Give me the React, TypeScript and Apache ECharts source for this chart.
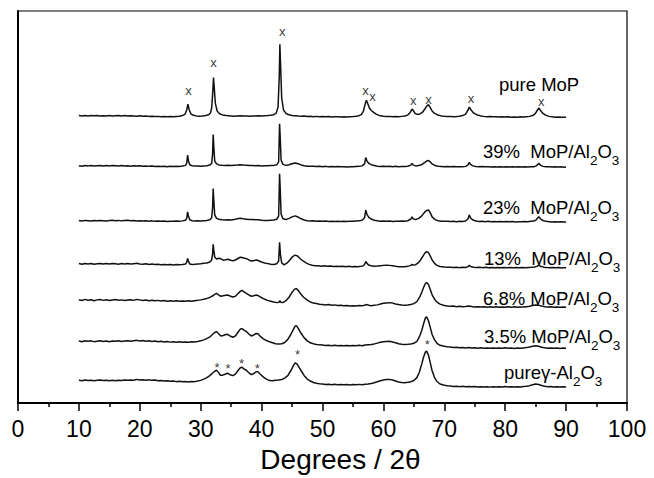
import React, { useEffect, useRef } from 'react';
import * as echarts from 'echarts';

const FONT = '"Liberation Sans", Arial, Helvetica, sans-serif';

// vertical offsets of each stacked pattern (arbitrary intensity units)
const offsets = [293, 242, 186, 142, 105, 63, 23];

// [2θ, relative intensity]
const pureMoP: number[][] = [[10,0.3],[10.5,-0.2],[11,0.4],[11.5,0],[12,0.5],[12.5,0.1],[13,0.3],[13.5,-0.2],[14,0.2],[14.5,0],[15,0.4],[15.5,-0.1],[16,0.2],[16.5,0.4],[17,0],[17.5,0.3],[18,-0.1],[18.5,0.2],[19,0],[19.5,-0.3],[20,0.1],[20.5,-0.4],[21,-0.2],[21.5,-0.5],[22,-0.3],[22.5,-0.7],[23,-0.5],[23.5,-0.9],[24,-0.6],[24.5,-1],[25,-0.7],[25.5,-0.9],[26,-0.6],[26.5,-0.3],[27,0.3],[27.4,1.5],[27.7,6],[27.9,12],[28.1,6.5],[28.4,2],[28.8,0.6],[29.3,0],[29.8,-0.3],[30.3,0],[30.8,0.4],[31.3,1.2],[31.6,3],[31.8,8],[32.0,26],[32.1,39],[32.2,31],[32.4,13],[32.7,5],[33.1,2.2],[33.6,1],[34.2,0.3],[35,0],[35.5,-0.3],[36,0],[36.5,0.2],[37,-0.2],[37.5,0],[38,-0.3],[38.5,0],[39,-0.2],[39.5,0.1],[40,0],[40.5,0.2],[41,0.3],[41.5,0.6],[42,1.2],[42.4,2.8],[42.7,9],[42.9,40],[43.0,73],[43.1,55],[43.3,18],[43.6,6],[44,2.5],[44.5,1.2],[45,0.5],[45.5,0.2],[46,-0.2],[46.5,-0.4],[47,-0.2],[47.5,-0.6],[48,-0.4],[48.5,-0.8],[49,-0.5],[49.5,-0.9],[50,-0.6],[50.5,-1],[51,-0.7],[51.5,-1.1],[52,-0.8],[52.5,-1],[53,-1.2],[53.5,-0.9],[54,-1.1],[54.5,-0.8],[55,-0.7],[55.5,-0.4],[56,0.2],[56.4,1.5],[56.7,4.5],[57.0,12],[57.2,16],[57.4,13],[57.7,8],[58.0,5.5],[58.4,3.5],[58.8,1.8],[59.3,0.5],[60,-0.3],[60.5,-0.6],[61,-0.5],[61.5,-0.9],[62,-0.6],[62.5,-0.8],[63,-0.5],[63.5,-0.2],[64,0.8],[64.4,3.5],[64.7,7],[64.9,5.5],[65.2,2.5],[65.6,1.5],[66,2],[66.4,3.5],[66.8,7],[67.1,10],[67.4,11.5],[67.7,8.5],[68,5],[68.4,2.5],[68.9,1],[69.5,0],[70,-0.4],[70.5,-0.7],[71,-0.5],[71.5,-0.8],[72,-0.6],[72.5,-0.3],[73,0.3],[73.5,1.8],[73.9,6],[74.1,9],[74.4,6],[74.8,3],[75.3,1.2],[76,0],[76.5,-0.5],[77,-0.8],[77.5,-0.6],[78,-1],[78.5,-0.8],[79,-1.1],[79.5,-0.9],[80,-1.2],[80.5,-1],[81,-1.3],[81.5,-1.1],[82,-1.3],[82.5,-1],[83,-1.1],[83.5,-0.8],[84,-0.5],[84.5,0.3],[84.9,2],[85.2,5],[85.5,8],[85.8,5.5],[86.2,2.5],[86.7,0.5],[87.2,-0.5],[87.7,-1],[88.2,-1.3],[88.7,-1.1],[89.2,-1.5],[89.6,-1.3],[90,-1.5]];

const mop39: number[][] = [[10,0.2],[10.5,-0.3],[11,0.3],[11.5,0],[12,0.4],[12.5,-0.2],[13,0.2],[13.5,0.4],[14,-0.1],[14.5,0.3],[15,0],[15.5,0.4],[16,0.1],[16.5,-0.2],[17,0.3],[17.5,0],[18,0.2],[18.5,-0.3],[19,0.1],[19.5,-0.2],[20,0.2],[20.5,-0.4],[21,-0.1],[21.5,-0.5],[22,-0.2],[22.5,-0.6],[23,-0.3],[23.5,-0.7],[24,-0.4],[24.5,-0.8],[25,-0.5],[25.5,-0.7],[26,-0.4],[26.5,-0.6],[27,-0.2],[27.5,0.5],[27.7,2.5],[27.85,11],[28.0,5],[28.2,1.2],[28.6,0.2],[29,-0.2],[29.5,0],[30,-0.3],[30.5,0],[31,0.2],[31.5,0.8],[31.8,2.5],[31.95,12],[32.05,32],[32.15,20],[32.3,5],[32.6,2],[33,1],[33.5,0.6],[34,0.3],[34.5,0.6],[35,0.3],[35.5,0.7],[36,0.9],[36.5,1.2],[37,0.8],[37.5,0.6],[38,0.3],[38.5,0.5],[39,0.2],[39.5,0.3],[40,0],[40.5,0.2],[41,0.1],[41.5,0.3],[42,0.5],[42.5,1.2],[42.8,4],[42.95,43],[43.05,30],[43.2,6],[43.5,1.5],[44,0.5],[44.5,1.2],[45,2.2],[45.5,3],[46,2.2],[46.5,1],[47,0.2],[47.5,-0.3],[48,-0.5],[48.5,-0.3],[49,-0.7],[49.5,-0.4],[50,-0.8],[50.5,-0.5],[51,-0.9],[51.5,-0.6],[52,-1],[52.5,-0.7],[53,-1],[53.5,-0.8],[54,-1.1],[54.5,-0.8],[55,-1],[55.5,-0.7],[56,-0.5],[56.5,0],[56.9,2],[57.1,8.5],[57.3,5],[57.6,2.5],[58,1.2],[58.5,0.3],[59,-0.3],[59.5,-0.6],[60,-0.4],[60.5,-0.7],[61,-0.5],[61.5,-0.8],[62,-0.5],[62.5,-0.8],[63,-0.6],[63.5,-0.7],[64,-0.4],[64.5,0.8],[64.7,2.5],[64.9,0.8],[65.3,0],[65.8,0.3],[66.3,1.2],[66.8,3.5],[67.1,5],[67.4,5.5],[67.7,4],[68,2],[68.5,0.3],[69,-0.4],[69.5,-0.6],[70,-0.8],[70.5,-0.6],[71,-0.9],[71.5,-0.7],[72,-1],[72.5,-0.8],[73,-0.9],[73.5,-0.5],[73.9,1],[74.1,3.5],[74.3,1.5],[74.7,0],[75.2,-0.6],[75.7,-0.9],[76.2,-0.7],[76.7,-1],[77.2,-0.8],[77.7,-1.1],[78.2,-0.9],[78.7,-1.2],[79.2,-0.9],[79.7,-1.1],[80.2,-0.8],[80.7,-1.1],[81.2,-0.9],[81.7,-1.2],[82.2,-1],[82.7,-1.2],[83.2,-0.9],[83.7,-1.1],[84.2,-0.8],[84.7,-0.9],[85.1,0],[85.5,2.5],[85.8,0.8],[86.2,-0.5],[86.7,-1],[87.2,-0.8],[87.7,-1.2],[88.2,-0.9],[88.7,-1.2],[89.2,-1],[89.6,-1.3],[90,-1.1]];

const mop23: number[][] = [[10,0.3],[10.5,-0.2],[11,0.4],[11.5,0.1],[12,-0.2],[12.5,0.3],[13,0],[13.5,0.4],[14,0.1],[14.5,-0.3],[15,0.2],[15.5,0.5],[16,0.1],[16.5,0.4],[17,-0.1],[17.5,0.2],[18,0.5],[18.5,0],[19,0.3],[19.5,-0.2],[20,0.1],[20.5,-0.3],[21,0],[21.5,-0.4],[22,-0.1],[22.5,-0.5],[23,-0.2],[23.5,-0.6],[24,-0.3],[24.5,-0.7],[25,-0.4],[25.5,-0.6],[26,-0.3],[26.5,-0.5],[27,-0.1],[27.5,0.6],[27.7,2.5],[27.85,9],[28.0,4.5],[28.2,1],[28.6,0],[29,-0.3],[29.5,0],[30,-0.2],[30.5,0.1],[31,0.3],[31.5,1],[31.8,3],[31.95,13],[32.05,33],[32.15,21],[32.3,6],[32.6,2.5],[33,1.5],[33.5,1],[34,0.8],[34.5,1.1],[35,0.9],[35.5,1.4],[36,2],[36.5,2.6],[37,2],[37.5,1.6],[38,1.2],[38.5,1.4],[39,1],[39.5,1.1],[40,0.5],[40.5,0.4],[41,0.2],[41.5,0.5],[42,0.8],[42.5,1.6],[42.8,5],[42.95,48],[43.05,34],[43.2,7],[43.5,2],[44,1.2],[44.5,2.5],[45,4],[45.5,5],[46,3.8],[46.5,2],[47,0.8],[47.5,0],[48,-0.3],[48.5,0],[49,-0.5],[49.5,-0.2],[50,-0.6],[50.5,-0.3],[51,-0.7],[51.5,-0.4],[52,-0.8],[52.5,-0.5],[53,-0.7],[53.5,-0.4],[54,-0.8],[54.5,-0.5],[55,-0.6],[55.5,-0.3],[56,-0.1],[56.5,0.6],[56.9,3],[57.1,11],[57.3,6.5],[57.6,3.5],[58,1.8],[58.5,0.6],[59,0],[59.5,-0.4],[60,-0.2],[60.5,-0.6],[61,-0.3],[61.5,-0.7],[62,-0.4],[62.5,-0.6],[63,-0.3],[63.5,-0.4],[64,0],[64.5,1.8],[64.7,4],[64.9,2],[65.3,1.2],[65.8,2.5],[66.3,5],[66.8,9],[67.1,10.5],[67.4,11],[67.7,8],[68,4],[68.5,1.2],[69,0],[69.5,-0.4],[70,-0.6],[70.5,-0.4],[71,-0.8],[71.5,-0.5],[72,-0.9],[72.5,-0.6],[73,-0.7],[73.5,-0.2],[73.9,2],[74.1,6],[74.3,3],[74.7,0.8],[75.2,-0.2],[75.7,-0.7],[76.2,-0.5],[76.7,-0.9],[77.2,-0.6],[77.7,-1],[78.2,-0.7],[78.7,-1.1],[79.2,-0.8],[79.7,-1],[80.2,-0.7],[80.7,-1.1],[81.2,-0.8],[81.7,-1.2],[82.2,-0.9],[82.7,-1.1],[83.2,-0.8],[83.7,-1],[84.2,-0.6],[84.7,-0.3],[85.1,1],[85.5,4],[85.8,2],[86.2,0.2],[86.7,-0.6],[87.2,-0.9],[87.7,-1.2],[88.2,-0.9],[88.7,-1.3],[89.2,-1],[89.6,-1.3],[90,-1.2]];

const mop13: number[][] = [[10,0.3],[10.5,-0.3],[11,0.5],[11.5,0],[12,0.4],[12.5,-0.3],[13,0.2],[13.5,0.5],[14,-0.2],[14.5,0.3],[15,0],[15.5,0.5],[16,0.1],[16.5,-0.3],[17,0.3],[17.5,0],[18,0.4],[18.5,-0.2],[19,0.2],[19.5,0.6],[20,0],[20.5,-0.4],[21,0.1],[21.5,-0.5],[22,-0.2],[22.5,-0.6],[23,-0.3],[23.5,-0.8],[24,-0.5],[24.5,-0.9],[25,-0.6],[25.5,-1],[26,-0.7],[26.5,-0.9],[27,-0.5],[27.5,0],[27.7,1.5],[27.85,5.5],[28.0,2.5],[28.2,0],[28.6,-0.6],[29,-0.4],[29.5,-0.1],[30,0.2],[30.5,0.6],[31,1],[31.5,2],[31.8,4],[31.95,10],[32.05,20],[32.15,14],[32.3,7],[32.6,5],[33,5.8],[33.3,5.2],[33.7,3.8],[34.1,4.2],[34.5,4.8],[34.9,3.8],[35.3,3.2],[35.7,4],[36.1,5.5],[36.5,6.8],[36.8,6.6],[37.2,5.8],[37.6,5.2],[38,3.8],[38.4,3],[38.8,3.5],[39.2,4],[39.6,3],[40,2],[40.5,1],[41,0.3],[41.5,-0.3],[42,-0.6],[42.5,0.2],[42.8,3],[42.95,22],[43.1,9],[43.3,1],[43.7,-1],[44.2,1],[44.7,4.5],[45.1,7.5],[45.5,9],[45.9,8],[46.3,5.5],[46.8,3],[47.3,1],[47.8,-0.5],[48.3,-1.3],[48.8,-1.8],[49.3,-2],[49.8,-2.3],[50.3,-2],[50.8,-2.5],[51.3,-2.2],[51.8,-2.6],[52.3,-2.3],[52.8,-2.7],[53.3,-2.4],[53.8,-2.8],[54.3,-2.5],[54.8,-2.9],[55.3,-2.6],[55.8,-2.8],[56.3,-2.5],[56.7,-2],[56.95,0],[57.1,2.5],[57.3,0.5],[57.6,-1.2],[58,-2],[58.5,-2.3],[59,-2.1],[59.5,-1.8],[60,-1.5],[60.5,-1.3],[61,-1.5],[61.5,-1.9],[62,-2.4],[62.5,-2.8],[63,-3],[63.5,-2.9],[64,-2.5],[64.5,-1.5],[64.7,-0.5],[64.9,-1.2],[65.3,-0.8],[65.7,1],[66.1,4],[66.5,8],[66.8,11],[67.1,12.5],[67.4,11.5],[67.7,8],[68,4],[68.4,0.5],[68.8,-1.5],[69.3,-2.6],[70,-3.2],[70.5,-3.5],[71,-3.3],[71.5,-3.7],[72,-3.4],[72.5,-3.8],[73,-3.5],[73.5,-3.6],[73.9,-2.8],[74.1,-1.5],[74.3,-2.6],[74.8,-3.4],[75.3,-3.7],[75.8,-3.4],[76.3,-3.8],[76.8,-3.5],[77.3,-3.9],[77.8,-3.6],[78.3,-4],[78.8,-3.7],[79.3,-4],[79.8,-3.6],[80.3,-3.9],[80.8,-3.6],[81.3,-4],[81.8,-3.7],[82.3,-4],[82.8,-3.7],[83.3,-3.9],[83.8,-3.6],[84.3,-3.5],[84.8,-3.2],[85.2,-2.5],[85.5,-1.2],[85.8,-2.4],[86.3,-3.3],[86.8,-3.7],[87.3,-3.9],[87.8,-3.6],[88.3,-4],[88.8,-3.7],[89.3,-4.1],[89.7,-3.8],[90,-4]];

const mop68: number[][] = [[10,0.5],[10.5,-0.3],[11,0.8],[11.5,0],[12,0.4],[12.5,-0.5],[13,0.3],[13.5,0.7],[14,-0.2],[14.5,0.4],[15,-0.4],[15.5,0.2],[16,0.6],[16.5,-0.1],[17,0.3],[17.5,-0.4],[18,0.2],[18.5,0.5],[19,-0.2],[19.5,0.8],[20,0.3],[20.5,-0.3],[21,0.2],[21.5,-0.5],[22,0],[22.5,-0.6],[23,-0.2],[23.5,-0.8],[24,-0.4],[24.5,-1],[25,-0.6],[25.5,-1.1],[26,-0.7],[26.5,-1.2],[27,-0.8],[27.5,-1.1],[28,-0.6],[28.5,-1],[29,-0.5],[29.5,-0.2],[30,0.3],[30.5,1],[31,1.8],[31.5,2.8],[32,4.5],[32.3,6],[32.6,7],[32.9,5.5],[33.3,4],[33.7,4.5],[34.1,5],[34.5,5.2],[34.9,4],[35.3,3.2],[35.7,4],[36.1,6.5],[36.5,9],[36.8,10],[37.1,8.5],[37.5,7],[37.9,5.5],[38.3,4],[38.7,4.5],[39.1,5.2],[39.5,4.5],[40,2.5],[40.5,1],[41,-0.2],[41.5,-1],[42,-1.8],[42.5,-2.5],[42.85,-2.2],[43.0,-0.5],[43.15,-2.2],[43.5,-2.5],[44,-0.5],[44.5,3],[45,8],[45.4,11],[45.7,12],[46,10],[46.4,6.5],[46.9,3],[47.5,0],[48,-1.8],[48.5,-3],[49,-3.5],[49.5,-4.2],[50,-4.5],[50.5,-4.8],[51,-4.5],[51.5,-5.2],[52,-4.8],[52.5,-5.5],[53,-5.2],[53.5,-5.8],[54,-5.4],[54.5,-6],[55,-5.6],[55.5,-6],[56,-5.5],[56.5,-5.8],[57,-5],[57.3,-4.5],[57.6,-5.2],[58,-5.6],[58.5,-5.2],[59,-4.8],[59.5,-4],[60,-3.2],[60.5,-2.8],[61,-2.5],[61.5,-3],[62,-3.8],[62.5,-4.5],[63,-5],[63.5,-5.3],[64,-5],[64.5,-4.5],[65,-3.5],[65.5,-1.5],[65.9,2.5],[66.3,8],[66.6,13],[66.9,17],[67.1,18],[67.4,16],[67.7,11],[68,5.5],[68.4,1],[68.8,-2],[69.3,-4],[70,-5.5],[70.5,-6],[71,-6.3],[71.5,-6],[72,-6.6],[72.5,-6.3],[73,-6.8],[73.5,-6.5],[74,-6],[74.5,-6.5],[75,-6.9],[75.5,-6.6],[76,-7],[76.5,-6.7],[77,-7.1],[77.5,-6.8],[78,-7.2],[78.5,-6.8],[79,-7.1],[79.5,-6.9],[80,-7.2],[80.5,-6.8],[81,-7.1],[81.5,-6.8],[82,-7.2],[82.5,-6.9],[83,-7],[83.5,-6.6],[84,-6.2],[84.5,-5.5],[85,-5],[85.5,-5.3],[86,-6],[86.5,-6.6],[87,-7],[87.5,-6.8],[88,-7.2],[88.5,-6.9],[89,-7.3],[89.5,-7],[90,-7.2]];

const mop35: number[][] = [[10,0.4],[10.5,-0.4],[11,0.6],[11.5,0],[12,0.5],[12.5,-0.3],[13,0.2],[13.5,0.7],[14,-0.2],[14.5,0.3],[15,-0.5],[15.5,0.4],[16,0],[16.5,0.6],[17,-0.2],[17.5,0.3],[18,0.7],[18.5,0],[19,0.5],[19.5,1],[20,0.4],[20.5,0.8],[21,0.2],[21.5,0.6],[22,-0.1],[22.5,0.3],[23,-0.4],[23.5,0],[24,-0.6],[24.5,-0.2],[25,-0.8],[25.5,-0.4],[26,-0.9],[26.5,-0.5],[27,-1],[27.5,-0.6],[28,-0.9],[28.5,-0.5],[29,-0.6],[29.5,-0.1],[30,0.5],[30.5,1.5],[31,2.8],[31.5,4.5],[32,7.5],[32.3,9],[32.6,10],[32.9,8],[33.3,5.5],[33.7,6],[34.1,7],[34.4,7.2],[34.8,5.5],[35.3,4.2],[35.7,5.5],[36.1,9],[36.5,12.5],[36.8,13],[37.1,11.5],[37.5,10],[37.9,7.5],[38.3,5.5],[38.7,6.5],[39.1,8],[39.4,7.8],[39.8,5],[40.3,2.5],[40.8,0.8],[41.3,-0.5],[41.8,-1.5],[42.3,-2.5],[42.8,-2.8],[43.3,-2.5],[43.8,-1.2],[44.3,2],[44.8,7],[45.2,12],[45.5,15.5],[45.7,16],[46.0,13.5],[46.4,9],[47,3.5],[47.5,0.5],[48,-1.5],[48.5,-2.5],[49,-3.2],[49.5,-3.6],[50,-3.8],[50.5,-4.2],[51,-3.9],[51.5,-4.4],[52,-4],[52.5,-4.5],[53,-4.2],[53.5,-4.6],[54,-4.3],[54.5,-4.6],[55,-4.2],[55.5,-4.5],[56,-4.1],[56.5,-4.4],[57,-3.8],[57.5,-3.5],[58,-3.2],[58.5,-2.6],[59,-1.8],[59.5,-1],[60,-0.5],[60.5,-0.2],[61,0],[61.5,-0.6],[62,-1.5],[62.5,-2.5],[63,-3],[63.5,-3.3],[64,-3],[64.5,-2.6],[65,-2],[65.5,0],[65.9,4.5],[66.3,11],[66.6,18],[66.9,24],[67.1,25],[67.4,21],[67.7,14],[68,7],[68.4,1.5],[68.8,-2],[69.3,-4],[70,-5],[70.5,-5.5],[71,-5.8],[71.5,-6.2],[72,-6],[72.5,-6.5],[73,-6.2],[73.5,-6.7],[74,-6.4],[74.5,-6.8],[75,-6.5],[75.5,-7],[76,-6.6],[76.5,-7],[77,-6.7],[77.5,-7.1],[78,-6.8],[78.5,-7.1],[79,-6.7],[79.5,-7],[80,-6.6],[80.5,-7],[81,-6.8],[81.5,-7.2],[82,-6.8],[82.5,-7.1],[83,-6.7],[83.5,-6.4],[84,-5.8],[84.5,-5],[85,-4.5],[85.5,-5],[86,-6],[86.5,-6.6],[87,-7],[87.5,-6.7],[88,-7.1],[88.5,-6.8],[89,-7.2],[89.5,-6.9],[90,-7.1]];

const pureAl2O3: number[][] = [[10,0.3],[10.5,-0.3],[11,0.5],[11.5,0],[12,0.4],[12.5,-0.2],[13,0.3],[13.5,0.6],[14,0],[14.5,0.4],[15,-0.3],[15.5,0.2],[16,-0.1],[16.5,0.4],[17,0],[17.5,0.5],[18,0.2],[18.5,0.6],[19,0.3],[19.5,1.2],[20,0.5],[20.5,0.9],[21,0.3],[21.5,0.7],[22,0.2],[22.5,0.5],[23,-0.2],[23.5,0.1],[24,-0.5],[24.5,-0.2],[25,-0.8],[25.5,-0.5],[26,-1.1],[26.5,-0.8],[27,-1.3],[27.5,-1],[28,-1.4],[28.5,-1],[29,-1.1],[29.5,-0.5],[30,0.2],[30.5,1.5],[31,3],[31.5,5],[32,8],[32.3,9.5],[32.6,10.5],[32.9,8.5],[33.2,5.5],[33.6,5.5],[34,6.5],[34.4,7.5],[34.8,6],[35.3,5],[35.7,6.5],[36.1,10],[36.5,13],[36.8,13.5],[37.1,12],[37.5,10.5],[37.9,8],[38.3,6],[38.7,7],[39.1,9],[39.4,9],[39.8,6.5],[40.3,3.5],[40.8,1.5],[41.3,0],[41.8,-0.3],[42.3,0.2],[42.8,0.5],[43.3,1],[43.8,2.5],[44.3,5],[44.8,10],[45.2,15],[45.5,18],[45.8,17],[46.1,14],[46.5,10],[47,5],[47.5,1.5],[48,-0.5],[48.5,-2],[49,-2.8],[49.5,-3.3],[50,-3.6],[50.5,-4],[51,-3.7],[51.5,-4.2],[52,-3.8],[52.5,-4.3],[53,-4],[53.5,-4.4],[54,-4.1],[54.5,-4.5],[55,-4.1],[55.5,-4.3],[56,-3.9],[56.5,-4.2],[57,-3.7],[57.5,-3.5],[58,-3],[58.5,-2.3],[59,-1.3],[59.5,-0.2],[60,0.6],[60.5,1],[61,1.2],[61.5,0.5],[62,-0.5],[62.5,-1.5],[63,-2],[63.5,-2.2],[64,-1.8],[64.5,-1.2],[65,0],[65.5,3],[65.9,8.5],[66.3,17],[66.6,24],[66.9,29],[67.1,30],[67.4,26],[67.7,18],[68,10],[68.4,3],[68.8,-1],[69.3,-3.5],[70,-4.8],[70.5,-5.3],[71,-5.6],[71.5,-6],[72,-5.7],[72.5,-6.2],[73,-5.9],[73.5,-6.3],[74,-6],[74.5,-6.4],[75,-6.1],[75.5,-6.5],[76,-6.2],[76.5,-6.6],[77,-6.3],[77.5,-6.7],[78,-6.3],[78.5,-6.6],[79,-6.2],[79.5,-6.5],[80,-6.1],[80.5,-6.5],[81,-6.2],[81.5,-6.6],[82,-6.2],[82.5,-6.5],[83,-6.1],[83.5,-5.8],[84,-5.2],[84.5,-4.2],[85,-3.5],[85.5,-4],[86,-5],[86.5,-5.8],[87,-6.3],[87.5,-6],[88,-6.5],[88.5,-6.2],[89,-6.6],[89.5,-6.3],[90,-6.5]];

const patterns = [pureMoP, mop39, mop23, mop13, mop68, mop35, pureAl2O3];
const seriesNames = ['pure MoP', '39% MoP/Al2O3', '23% MoP/Al2O3', '13% MoP/Al2O3', '6.8% MoP/Al2O3', '3.5% MoP/Al2O3', 'pure γ-Al2O3'];

// label text (main part) and whether the "2O3" formula follows
const labelMain = ['pure MoP', '39%  MoP/Al', '23%  MoP/Al', '13%  MoP/Al', '6.8% MoP/Al', '3.5% MoP/Al', 'pureγ-Al'];
const labelHasFormula = [false, true, true, true, true, true, true];

// MoP reflections marked with "x" : [2θ, height]
const mopMarks: number[][] = [[28.0, 319], [32.1, 347], [43.4, 379], [57.05, 319], [58.2, 313], [64.9, 309], [67.4, 310], [74.4, 311], [85.9, 308]];
// γ-Al2O3 reflections marked with "*" : [2θ, height]
const aluminaMarks: number[][] = [[32.7, 36], [34.5, 35], [36.7, 40], [39.3, 35], [45.9, 50], [67.2, 60]];

const xMin = 0;
const xMax = 100;
const xInterval = 10;

export default function App() {
  const ref = useRef<HTMLDivElement>(null);
  useEffect(() => {
    if (!ref.current) return;
    const chart = echarts.init(ref.current, null, { renderer: 'svg' });

    const lineSeries = patterns.map((pts, i) => ({
      name: seriesNames[i],
      type: 'line',
      data: pts.map(([x, y]) => [x, y + offsets[i]]),
      showSymbol: false,
      symbol: 'none',
      smooth: false,
      lineStyle: { color: '#111', width: 1.5 },
      z: 2,
    }));

    const markSeries = (pts: number[][], ch: string, size: number) => ({
      type: 'scatter',
      data: pts,
      symbolSize: 1,
      itemStyle: { color: 'transparent' },
      silent: true,
      label: {
        show: true,
        position: 'inside',
        formatter: ch,
        fontSize: size,
        fontFamily: FONT,
        color: '#000',
      },
      z: 3,
    });

    const labelPos = [
      [499, 84], [483, 151], [483, 207], [484, 258], [483, 298], [484, 336], [504, 372],
    ];

    const graphics = labelMain.map((t, i) => ({
      type: 'text',
      x: labelPos[i][0],
      y: labelPos[i][1],
      style: {
        text: labelHasFormula[i] ? `{m|${t}}{s|2}{m|O}{s|3}` : `{m|${t}}`,
        align: 'left',
        verticalAlign: 'middle',
        textAlign: 'left',
        textVerticalAlign: 'middle',
        fill: '#000',
        font: `18.5px ${FONT}`,
        rich: {
          m: { fontSize: 18.5, fontFamily: FONT, fill: '#000', color: '#000' },
          s: { fontSize: 13.5, fontFamily: FONT, fill: '#000', color: '#000', padding: [18, 0, 0, 0] },
        },
      },
      z: 10,
    }));

    chart.setOption({
      animation: false,
      backgroundColor: '#fff',
      grid: {
        left: 18,
        right: 27,
        top: 11,
        bottom: 67,
        show: true,
        borderColor: '#000',
        borderWidth: 1.2,
        backgroundColor: 'transparent',
      },
      xAxis: {
        type: 'value',
        min: xMin,
        max: xMax,
        interval: xInterval,
        name: 'Degrees / 2θ',
        nameLocation: 'middle',
        nameGap: 39,
        nameTextStyle: { fontSize: 28, fontFamily: FONT, color: '#000', padding: [0, 0, 0, 36] },
        axisLine: { show: true, onZero: false, lineStyle: { color: '#000', width: 2 } },
        axisTick: { show: true, inside: false, length: 8, lineStyle: { color: '#000', width: 1.5 } },
        minorTick: { show: true, splitNumber: 2, length: 4, lineStyle: { color: '#000', width: 1.5 } },
        axisLabel: { fontSize: 23, fontFamily: FONT, color: '#000', margin: 14 },
        splitLine: { show: false },
        minorSplitLine: { show: false },
      },
      yAxis: {
        type: 'value',
        min: 0,
        max: 400,
        axisLine: { show: true, onZero: false, lineStyle: { color: '#000', width: 2 } },
        axisTick: { show: false },
        axisLabel: { show: false },
        splitLine: { show: false },
      },
      series: [
        ...lineSeries,
        markSeries(mopMarks, 'x', 13),
        markSeries(aluminaMarks, '*', 13),
      ],
      graphic: graphics,
    });

    return () => chart.dispose();
  }, []);

  return (
    <div
      ref={ref}
      style={{ position: 'fixed', left: 0, top: 0, width: 654, height: 478, background: '#fff' }}
    />
  );
}
